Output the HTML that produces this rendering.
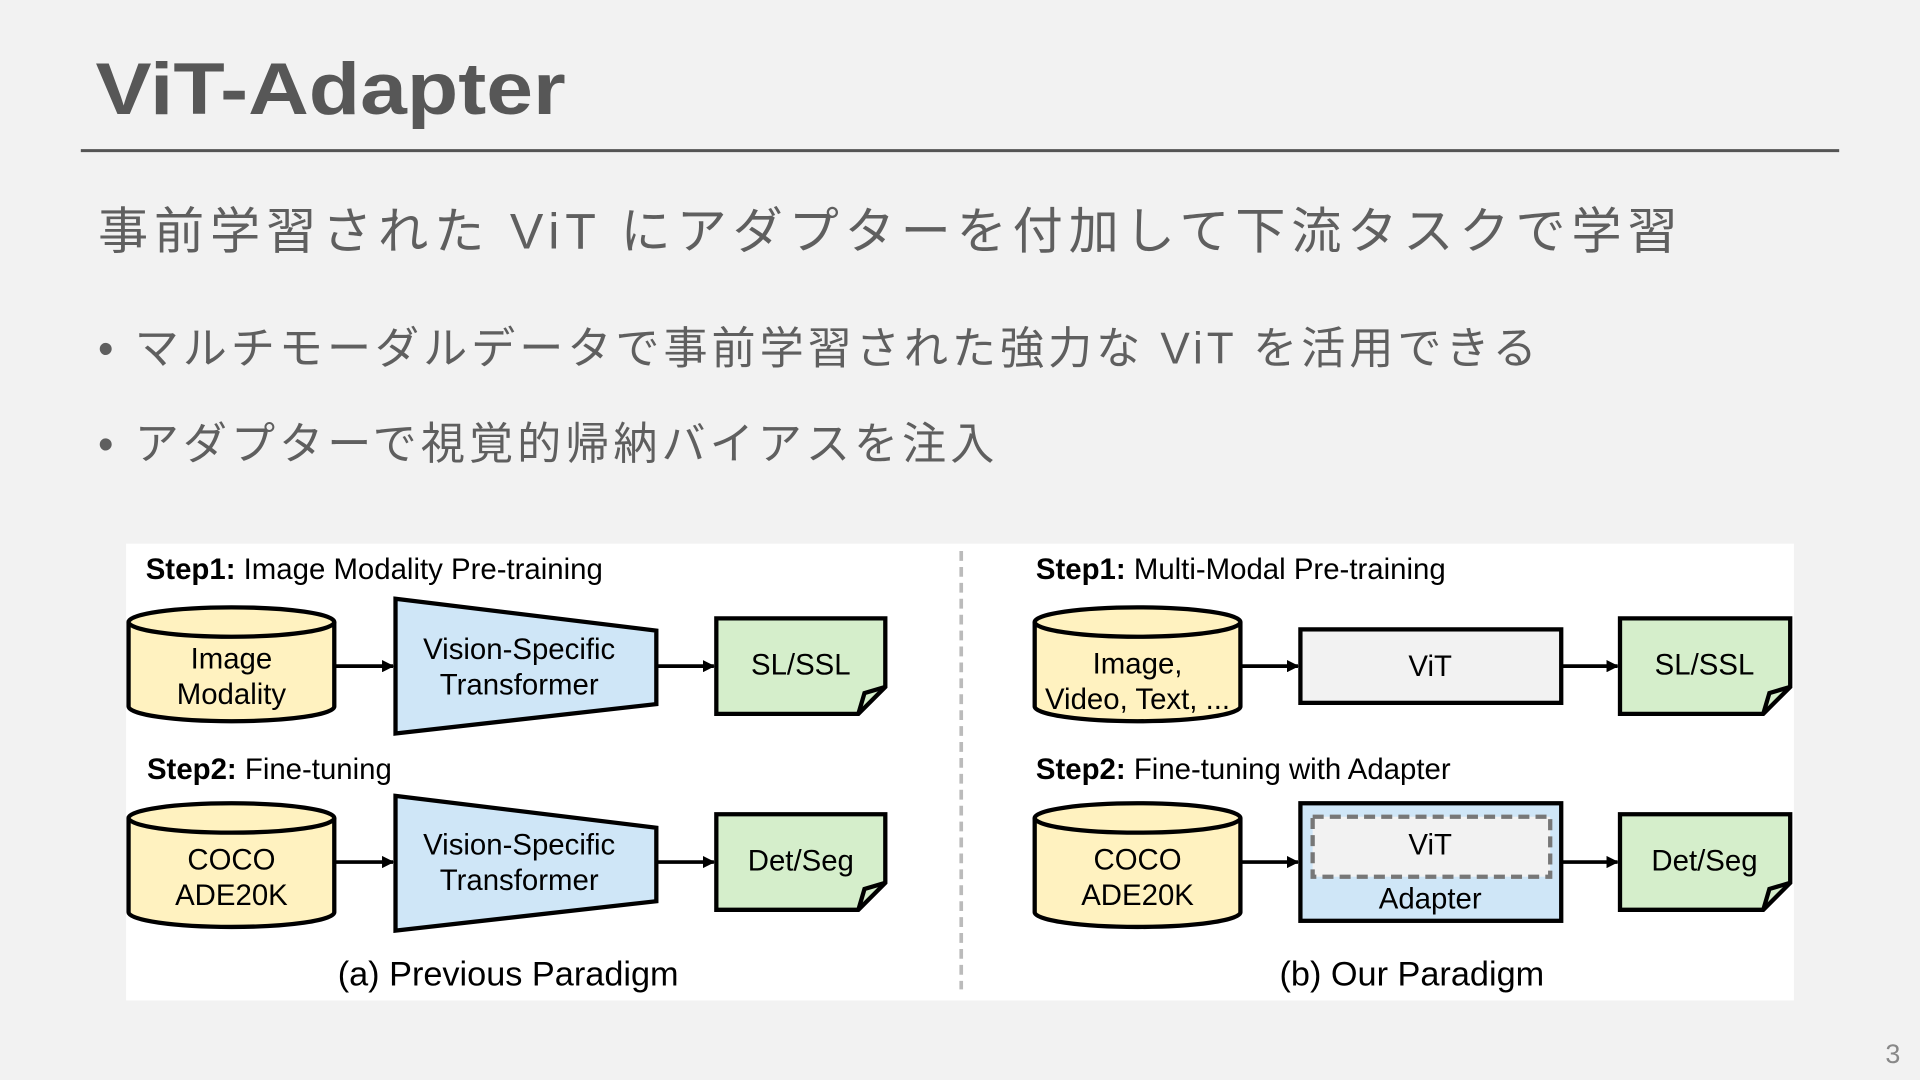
<!DOCTYPE html>
<html><head><meta charset="utf-8"><style>
html,body{margin:0;padding:0;background:#f2f2f2;}
svg{display:block}
.jp{font-family:"Liberation Sans","Noto Sans CJK JP",sans-serif;}
.d{font-family:"Liberation Sans",sans-serif;fill:#000;}
</style></head><body>
<svg width="1920" height="1080" viewBox="0 0 1568 882" xmlns="http://www.w3.org/2000/svg">
<rect width="1568" height="882" fill="#f2f2f2"/>
<text x="78" y="93" class="jp" font-size="60" font-weight="bold" fill="#575757" textLength="384" lengthAdjust="spacingAndGlyphs">ViT-Adapter</text>
<line x1="66" y1="123" x2="1502" y2="123" stroke="#555" stroke-width="2.5"/>
<text x="80" y="203" class="jp" font-size="41" fill="#5f5f5f" textLength="1290" lengthAdjust="spacing">事前学習された ViT にアダプターを付加して下流タスクで学習</text>
<text x="80" y="297" class="jp" font-size="36" fill="#5f5f5f">•</text>
<text x="110" y="297" class="jp" font-size="36" fill="#5f5f5f" textLength="1145" lengthAdjust="spacing">マルチモーダルデータで事前学習された強力な ViT を活用できる</text>
<text x="80" y="375" class="jp" font-size="36" fill="#5f5f5f">•</text>
<text x="110" y="375" class="jp" font-size="36" fill="#5f5f5f" textLength="702" lengthAdjust="spacing">アダプターで視覚的帰納バイアスを注入</text>
<text x="1552" y="868" text-anchor="end" class="jp" font-size="22" fill="#888">3</text>

<rect x="103" y="444" width="1362" height="373" fill="#fff"/>
<line x1="785" y1="450" x2="785" y2="808" stroke="#bbb" stroke-width="3" stroke-dasharray="8,5"/>
<defs><marker id="a" markerWidth="10" markerHeight="10" refX="9" refY="5" orient="auto" markerUnits="userSpaceOnUse"><path d="M0,0 L10,5 L0,10z" fill="#000"/></marker></defs>
<g stroke="#000" stroke-width="3.5">
<g fill="#fff2c0">
<path d="M105,508 V577 A84,12 0 0 0 273,577 V508"/><ellipse cx="189" cy="508" rx="84" ry="12"/>
<path d="M105,668 V745 A84,12 0 0 0 273,745 V668"/><ellipse cx="189" cy="668" rx="84" ry="12"/>
<path d="M845,508 V577 A84,12 0 0 0 1013,577 V508"/><ellipse cx="929" cy="508" rx="84" ry="12"/>
<path d="M845,668 V745 A84,12 0 0 0 1013,745 V668"/><ellipse cx="929" cy="668" rx="84" ry="12"/>
</g>
<g fill="#cfe6f7">
<path d="M323,489 L536,515 L536,575 L323,599z"/>
<path d="M323,650 L536,676 L536,736 L323,760z"/>
<rect x="1062" y="656" width="213" height="96"/>
</g>
<rect x="1062" y="514" width="213" height="60" fill="#f2f2f2"/>
<rect x="1072" y="667" width="194" height="49" fill="#f2f2f2" stroke="#777" stroke-dasharray="9,5"/>
<g fill="#d5eecb">
<path d="M585,505 H723 V561 L701,583 H585z"/><path d="M701,583 L706,566 L723,561" fill="none"/>
<path d="M585,665 H723 V721 L701,743 H585z"/><path d="M701,743 L706,726 L723,721" fill="none"/>
<path d="M1323,505 H1462 V561 L1440,583 H1323z"/><path d="M1440,583 L1445,566 L1462,561" fill="none"/>
<path d="M1323,665 H1462 V721 L1440,743 H1323z"/><path d="M1440,743 L1445,726 L1462,721" fill="none"/>
</g>
<g stroke-width="3" marker-end="url(#a)">
<line x1="274" y1="544" x2="321" y2="544"/><line x1="537" y1="544" x2="583" y2="544"/>
<line x1="274" y1="704" x2="321" y2="704"/><line x1="537" y1="704" x2="583" y2="704"/>
<line x1="1014" y1="544" x2="1060" y2="544"/><line x1="1276" y1="544" x2="1321" y2="544"/>
<line x1="1014" y1="704" x2="1060" y2="704"/><line x1="1276" y1="704" x2="1321" y2="704"/>
</g>
</g>
<g class="d" font-size="24" text-anchor="middle">
<text x="189" y="546">Image</text><text x="189" y="575">Modality</text>
<text x="424" y="538">Vision-Specific</text><text x="424" y="567">Transformer</text>
<text x="654" y="551">SL/SSL</text>
<text x="189" y="710">COCO</text><text x="189" y="739">ADE20K</text>
<text x="424" y="698">Vision-Specific</text><text x="424" y="727">Transformer</text>
<text x="654" y="711">Det/Seg</text>
<text x="929" y="550">Image,</text><text x="929" y="579">Video, Text, ...</text>
<text x="1168" y="552">ViT</text>
<text x="1392" y="551">SL/SSL</text>
<text x="929" y="710">COCO</text><text x="929" y="739">ADE20K</text>
<text x="1168" y="698">ViT</text><text x="1168" y="742">Adapter</text>
<text x="1392" y="711">Det/Seg</text>
<text x="415" y="805" font-size="28">(a) Previous Paradigm</text>
<text x="1153" y="805" font-size="28">(b) Our Paradigm</text>
</g>
<g class="d" font-size="24">
<text x="119" y="473"><tspan font-weight="bold">Step1:</tspan> Image Modality Pre-training</text>
<text x="120" y="636"><tspan font-weight="bold">Step2:</tspan> Fine-tuning</text>
<text x="846" y="473"><tspan font-weight="bold">Step1:</tspan> Multi-Modal Pre-training</text>
<text x="846" y="636"><tspan font-weight="bold">Step2:</tspan> Fine-tuning with Adapter</text>
</g>
</svg>
</body></html>
